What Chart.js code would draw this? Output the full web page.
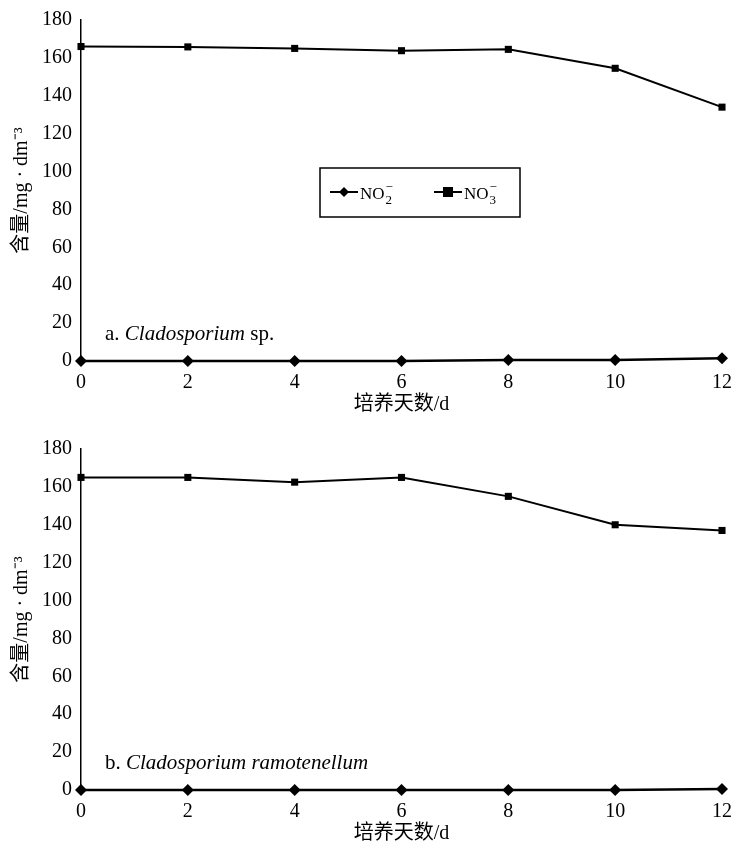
<!DOCTYPE html>
<html>
<head>
<meta charset="utf-8">
<script src="https://cdn.jsdelivr.net/npm/chart.js@4.4.0/dist/chart.umd.min.js"></script>
<style>
  html, body { margin: 0; padding: 0; background: #fff; }
  canvas { display: block; }
</style>
</head>
<body>
<canvas id="chartA" width="735" height="420"></canvas>
<canvas id="chartB" width="735" height="427"></canvas>
<script>
// days of culture
const days = [0, 2, 4, 6, 8, 10, 12];
const yTicks = [0, 20, 40, 60, 80, 100, 120, 140, 160, 180];

// a. Cladosporium sp.
const no2A = [0, 0, 0, 0, 0.5, 0.5, 1.5];
const no3A = [166, 165.8, 165, 163.8, 164.5, 154.5, 134];

// b. Cladosporium ramotenellum
const no2B = [0, 0, 0, 0, 0, 0, 0.5];
const no3B = [165, 165, 162.5, 165, 155, 140, 137];

const serif = '"Liberation Serif", "Times New Roman", "Noto Sans CJK SC", serif';
const cjk = '"Liberation Serif", "Noto Sans CJK SC", serif';

Chart.defaults.font.family = serif;
Chart.defaults.color = '#000';

const toXY = (vals) => days.map((d, i) => ({ x: d, y: vals[i] }));

// draws "NO" with stacked subscript / superscript minus
function drawNO(ctx, x, y, sub) {
  ctx.font = '17px ' + serif;
  ctx.textAlign = 'left';
  ctx.textBaseline = 'alphabetic';
  ctx.fillText('NO', x, y);
  const w = ctx.measureText('NO').width;
  ctx.font = '13px ' + serif;
  ctx.fillText(sub, x + w + 1, y + 5);
  ctx.fillText('\u2212', x + w + 1, y - 8);
}

const legendPlugin = {
  id: 'boxLegend',
  afterDraw(chart, args, opts) {
    if (!opts.show) return;
    const ctx = chart.ctx;
    ctx.save();
    ctx.strokeStyle = '#000';
    ctx.lineWidth = 1.5;
    ctx.strokeRect(320, 168, 200, 49);
    ctx.fillStyle = '#000';
    ctx.lineWidth = 2;
    // NO2 item
    ctx.beginPath(); ctx.moveTo(330, 192); ctx.lineTo(358, 192); ctx.stroke();
    ctx.beginPath();
    ctx.moveTo(344, 187); ctx.lineTo(349, 192); ctx.lineTo(344, 197); ctx.lineTo(339, 192);
    ctx.closePath(); ctx.fill();
    drawNO(ctx, 360, 199, '2');
    // NO3 item
    ctx.beginPath(); ctx.moveTo(434, 192); ctx.lineTo(462, 192); ctx.stroke();
    ctx.fillRect(443, 187, 10, 10);
    drawNO(ctx, 464, 199, '3');
    ctx.restore();
  }
};

const labelPlugin = {
  id: 'panelLabel',
  afterDraw(chart, args, opts) {
    const ctx = chart.ctx;
    const area = chart.chartArea;
    ctx.save();
    ctx.fillStyle = '#000';
    ctx.textBaseline = 'alphabetic';
    ctx.textAlign = 'left';
    let x = area.left + 24;
    const y = chart.scales.y.getPixelForValue(0) - 21;
    opts.parts.forEach(p => {
      ctx.font = (p.italic ? 'italic ' : '') + '21px ' + serif;
      ctx.fillText(p.text, x, y);
      x += ctx.measureText(p.text).width;
    });
    ctx.restore();
  }
};

function makeChart(id, no2, no3, parts, showLegend, padTop, xHeight, titleBottom) {
  return new Chart(document.getElementById(id), {
    type: 'line',
    data: {
      datasets: [
        {
          label: 'NO3',
          data: toXY(no3),
          borderColor: '#000',
          backgroundColor: '#000',
          borderWidth: 2,
          pointStyle: 'rect',
          pointRadius: 5,
          pointBorderWidth: 0,
          tension: 0,
          clip: false
        },
        {
          label: 'NO2',
          data: toXY(no2),
          borderColor: '#000',
          backgroundColor: '#000',
          borderWidth: 2.5,
          pointStyle: 'rectRot',
          pointRadius: 6,
          pointBorderWidth: 0,
          tension: 0,
          clip: false
        }
      ]
    },
    options: {
      responsive: false,
      animation: false,
      devicePixelRatio: 1,
      layout: { padding: { top: padTop, right: 13, left: 0, bottom: 0 } },
      plugins: {
        legend: { display: false },
        tooltip: { enabled: false },
        boxLegend: { show: showLegend },
        panelLabel: { parts: parts }
      },
      scales: {
        x: {
          type: 'linear',
          min: 0,
          max: 12,
          afterBuildTicks: (axis) => { axis.ticks = days.map(v => ({ value: v })); },
          afterFit: (scale) => { scale.height = xHeight; scale.paddingLeft = 0; scale.paddingRight = 0; },
          grid: { display: false, drawTicks: false },
          border: { display: false },
          ticks: { font: { size: 20, lineHeight: 1 }, padding: 12, maxRotation: 0 },
          title: { display: true, text: '培养天数/d', font: { size: 20, family: cjk, lineHeight: 1 }, padding: { top: 0, bottom: titleBottom } }
        },
        y: {
          min: 0,
          max: 180,
          afterBuildTicks: (axis) => { axis.ticks = yTicks.map(v => ({ value: v })); },
          afterFit: (scale) => { scale.width = 81; scale.paddingTop = 0; scale.paddingBottom = 0; },
          grid: { display: false, drawTicks: true, tickLength: 4, tickColor: '#000' },
          border: { display: true, color: '#000', width: 1.5 },
          ticks: { font: { size: 20 }, padding: 5 },
          title: { display: true, text: '含量/mg · dm\u207B\u00B3', font: { size: 20, family: cjk }, padding: { top: 10, bottom: 0 } }
        }
      }
    },
    plugins: [legendPlugin, labelPlugin]
  });
}

makeChart('chartA', no2A, no3A, [
  { text: 'a. ', italic: false },
  { text: 'Cladosporium', italic: true },
  { text: ' sp.', italic: false }
], true, 20, 59, 5);

makeChart('chartB', no2B, no3B, [
  { text: 'b. ', italic: false },
  { text: 'Cladosporium ramotenellum', italic: true }
], false, 29, 57, 3);
</script>
</body>
</html>
